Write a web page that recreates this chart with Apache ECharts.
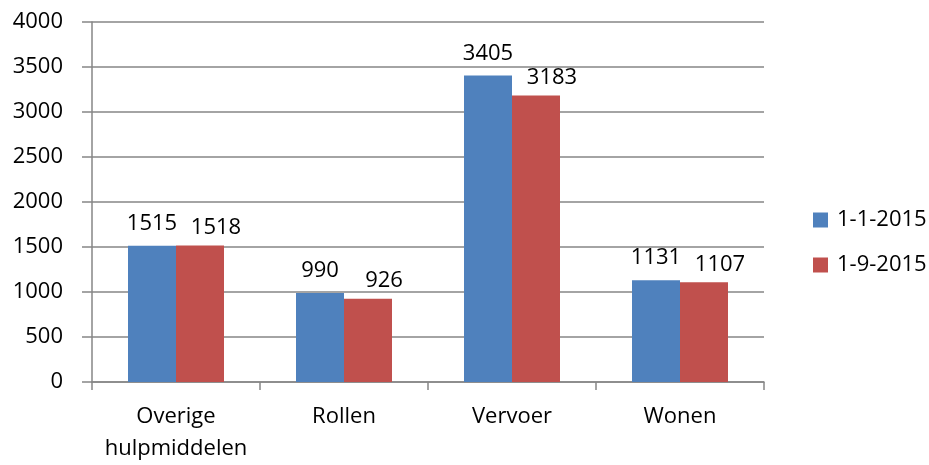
<!DOCTYPE html>
<html><head><meta charset="utf-8">
<script src="https://cdn.jsdelivr.net/npm/echarts@6/dist/echarts.min.js"></script>
<style>html,body{margin:0;padding:0;background:#fff}#c{width:929px;height:465px}</style>
</head><body><div id="c"></div>
<script>
var categories = ['Overige\nhulpmiddelen', 'Rollen', 'Vervoer', 'Wonen'];
var seriesNames = ['1-1-2015', '1-9-2015'];
var values2015Jan = [1515, 990, 3405, 1131];
var values2015Sep = [1518, 926, 3183, 1107];
var yTicks = [0, 500, 1000, 1500, 2000, 2500, 3000, 3500, 4000];

var font = "'Open Sans', 'Liberation Sans', sans-serif";
var fs = 22;
var chart = echarts.init(document.getElementById('c'));
function lbl(dx, dist) {
  return {show: true, position: 'top', distance: dist, offset: [dx, 0], color: '#000', fontSize: fs, fontFamily: font};
}
chart.setOption({
  animation: false,
  textStyle: {fontFamily: font},
  grid: {left: 92, right: 165, top: 22, bottom: 80},
  legend: {
    orient: 'vertical', left: 808, top: 204, itemWidth: 15, itemHeight: 15, itemGap: 23,
    icon: 'rect', textStyle: {fontSize: fs, color: '#000', fontFamily: font, padding: [0, 0, 0, 4]},
    data: seriesNames
  },
  xAxis: {
    type: 'category', data: categories,
    axisLine: {lineStyle: {color: '#868686', width: 1.5}},
    axisTick: {show: true, length: 8, lineStyle: {color: '#868686', width: 1.5}},
    axisLabel: {color: '#000', fontSize: fs, fontFamily: font, margin: 19, lineHeight: 32, interval: 0}
  },
  yAxis: {
    type: 'value', min: yTicks[0], max: yTicks[yTicks.length - 1], interval: 500,
    axisLine: {show: true, lineStyle: {color: '#868686', width: 1.5}},
    axisTick: {show: true, length: 10, lineStyle: {color: '#868686', width: 1.5}},
    splitLine: {lineStyle: {color: '#868686', width: 1.5}},
    axisLabel: {color: '#000', fontSize: fs, fontFamily: font, margin: 29,
      formatter: function (v) { return String(v); }}
  },
  series: [
    {name: seriesNames[0], type: 'bar', data: values2015Jan, barWidth: 48, barGap: '0%',
     itemStyle: {color: '#4F81BD'}, label: lbl(0, 11)},
    {name: seriesNames[1], type: 'bar', data: values2015Sep, barWidth: 48,
     itemStyle: {color: '#C0504D'}, label: lbl(16, 7)}
  ]
});
</script></body></html>
